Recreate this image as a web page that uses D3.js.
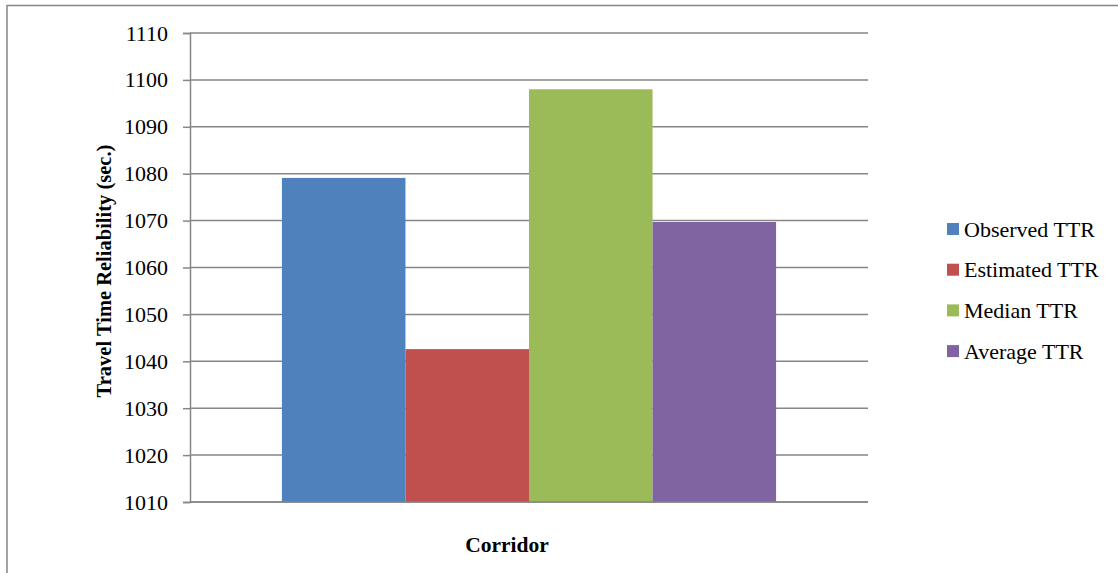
<!DOCTYPE html>
<html>
<head>
<meta charset="utf-8">
<script src="https://cdn.jsdelivr.net/npm/d3@7"></script>
<style>
  html, body { margin: 0; padding: 0; background: #fff; }
  svg { display: block; }
  text { font-family: "Liberation Serif", "Times New Roman", serif; fill: #000; }
</style>
</head>
<body>
<svg id="chart" width="1118" height="573"></svg>
<script>
// ---- data ----
const categories = ["Corridor"];
const seriesNames = ["Observed TTR", "Estimated TTR", "Median TTR", "Average TTR"];
const seriesValues = [1079.1, 1042.6, 1098.0, 1069.7];
const seriesColors = ["#4f81bd", "#c0504d", "#9bbb59", "#8064a2"];
const yTicks = [1010, 1020, 1030, 1040, 1050, 1060, 1070, 1080, 1090, 1100, 1110];
const yTitle = "Travel Time Reliability (sec.)";

// ---- layout ----
const W = 1118, H = 573;
const plot = { left: 190, right: 868, top: 33, bottom: 502 };
const svg = d3.select("#chart");

// outer frame (top and left edges visible)
svg.append("line").attr("x1", 7).attr("x2", W).attr("y1", 5.5).attr("y2", 5.5)
  .attr("stroke", "#868686").attr("stroke-width", 1.5);
svg.append("line").attr("x1", 7).attr("x2", 7).attr("y1", 5).attr("y2", H)
  .attr("stroke", "#868686").attr("stroke-width", 1.5);

const y = d3.scaleLinear().domain([1010, 1110]).range([plot.bottom, plot.top]);
const x0 = d3.scaleBand().domain(categories).range([plot.left, plot.right])
  .paddingInner(0).paddingOuter(0.186);
const x1 = d3.scaleBand().domain(seriesNames).range([0, x0.bandwidth()]).padding(0);

// gridlines
svg.append("g").selectAll("line").data(yTicks).join("line")
  .attr("x1", plot.left).attr("x2", plot.right)
  .attr("y1", d => y(d)).attr("y2", d => y(d))
  .attr("stroke", "#868686").attr("stroke-width", 1.5);

// bars
const data = seriesNames.map((s, i) => ({ cat: categories[0], s, v: seriesValues[i], c: seriesColors[i] }));
svg.append("g").selectAll("rect").data(data).join("rect")
  .attr("x", d => x0(d.cat) + x1(d.s))
  .attr("width", x1.bandwidth())
  .attr("y", d => y(d.v))
  .attr("height", d => y(1010) - y(d.v))
  .attr("fill", d => d.c);

// y axis
const yAxis = d3.axisLeft(y).tickValues(yTicks).tickSize(7).tickPadding(15).tickFormat(d3.format("d"));
const gy = svg.append("g").attr("transform", `translate(${plot.left},0)`).call(yAxis);
gy.select(".domain").attr("stroke", "#868686").attr("stroke-width", 1.5);
gy.selectAll(".tick line").attr("stroke", "#868686").attr("stroke-width", 1.5);
gy.selectAll(".tick text").attr("font-size", 22).attr("font-family", "Liberation Serif");

// x axis baseline
svg.append("line").attr("x1", plot.left).attr("x2", plot.right)
  .attr("y1", y(1010)).attr("y2", y(1010)).attr("stroke", "#868686").attr("stroke-width", 1.5);

// axis titles
svg.append("text")
  .attr("transform", `translate(111,271) rotate(-90)`)
  .attr("text-anchor", "middle").attr("font-weight", "bold").attr("font-size", 20.5)
  .text(yTitle);
svg.append("text")
  .attr("x", 507).attr("y", 552)
  .attr("text-anchor", "middle").attr("font-weight", "bold").attr("font-size", 21.5)
  .text("Corridor");

// legend
const lg = svg.append("g").selectAll("g").data(data).join("g")
  .attr("transform", (d, i) => `translate(947,${229 + i * 40.7})`);
lg.append("rect").attr("x", 0).attr("y", -6).attr("width", 12).attr("height", 12).attr("fill", d => d.c);
lg.append("text").attr("x", 17).attr("y", 7.5).attr("font-size", 22).text(d => d.s);
</script>
</body>
</html>
